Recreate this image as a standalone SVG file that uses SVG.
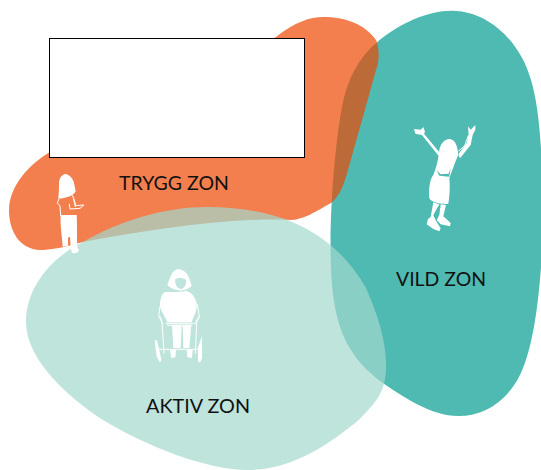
<svg xmlns="http://www.w3.org/2000/svg" width="541" height="470" viewBox="0 0 541 470">
<style>
.lbl{font-family:"Lato","Liberation Sans",sans-serif;font-size:20px;fill:#111}
.w{fill:#fff}
.l{fill:none;stroke:#fff;stroke-linecap:round;stroke-linejoin:round}
</style>
<rect width="541" height="470" fill="#fff"/>
<g id="vild-zon">
<path fill="#4fbab2" d="M377.600 41.700C400 23 427.600 10.700 451.700 10.700C489.700 10.700 520.700 43 531 80C540 110 543 157 543 233C540 300 533 350 519 377C505 403 482.800 416 458.600 416C431 416 403.400 397 382.800 383C351.700 360 332.800 333 331 267C329 217 334.500 150 341.400 110C346.500 80 358.600 57 377.600 41.700Z"/>
<text class="lbl" x="396" y="286" textLength="90" lengthAdjust="spacingAndGlyphs">VILD ZON</text>
<g transform="translate(400 115) scale(.3333)">
<path class="w" d="M150 72C130 72 121 90 118 105C115 130 112 150 100 180C88 195 86 225 88 250C92 262 130 270 145 266C150 240 150 210 148 190C155 170 170 130 175 120C172 95 168 75 150 72Z"/>
<path fill="#4fbab2" d="M110 166L118 182L148 185L152 158L146 176L122 178Z"/>
<path class="w" d="M42 42L62 44L70 36L75 50L72 56L118 112L118 125L66 60L46 56Z"/>
<path class="w" d="M204 34L212 44L226 30L226 44L218 60L212 90L180 130L175 118L200 85L206 60Z"/>
<path class="l" stroke-width="3" d="M205 62L194 92L176 108"/>
<path class="w" d="M100 262L118 268L100 300L108 318L122 340L118 349L100 342L80 328L84 312L92 306Z"/>
<path class="w" d="M122 268L138 270L130 304L152 324L150 334L122 328L110 316L118 300Z"/>
<path fill="#4fbab2" d="M114 276L122 276L106 308L102 304Z"/>
</g>
</g>
<g id="trygg-zon">
<path fill="#ed4600" fill-opacity=".69" d="M276 37C295 22 310 17 323 17C345 17 365 24 376 40C380 50 379 62 376 70L346 177C342 190 338 197 331 203C315 212 303 220 290 220C255 218 190 222 83 242C62 248 50 250 40 250C20 249 9 232 9 210C9 187 28 165 50 152Z"/>
<text class="lbl" x="119" y="190" textLength="110" lengthAdjust="spacingAndGlyphs">TRYGG ZON</text>
</g>
<g id="aktiv-zon">
<path fill="#a2d8cd" fill-opacity=".7" d="M83 242C121 220 165.500 207 207 207C241 207 269 213 290 221C324 235 348 257 365.500 287C379 317 387 345 386 370C385 392 376 403 358.600 420C331 443 293 470 248 470C207 470 148 447 103 420C69 398 26 360 26 322C26 287 52 257 83 242Z"/>
<text class="lbl" x="146" y="413" textLength="104" lengthAdjust="spacingAndGlyphs">AKTIV ZON</text>
<g transform="translate(140 260) scale(.3333)">
<path class="w" d="M115 27C97 29 92 48 82 75C90 85 108 90 120 92C135 90 150 85 155 78C148 50 140 30 115 27Z"/>
<path fill="#bee4dd" d="M106 58C115 52 132 52 138 60C140 72 134 86 122 87C112 86 104 74 106 58Z"/>
<path class="w" d="M75 96C63 102 60 122 60 140C64 156 78 172 82 187L155 187C160 170 172 155 170 130C165 110 155 96 136 92C120 98 92 95 75 96Z"/>
<path class="w" d="M96 194L125 194L122 264L100 264Z"/>
<path class="w" d="M128 194L154 194L148 264L130 264Z"/>
<path class="l" stroke-width="3" d="M60 170L66 185L72 280M178 170L170 188L166 280M78 190L160 190M82 196L155 196M50 268L184 268M60 140L56 168L68 192M172 134L178 168L164 192"/>
<path class="w" d="M44 242L50 240L54 252L64 300L60 308L50 290ZM186 228L186 295L180 308L174 304L174 262Z"/>
<path class="w" d="M90 270L108 270L106 292L94 294ZM140 270L158 270L156 294L142 292Z"/>
</g>
</g>
<g id="girl" transform="translate(40 165) scale(.3333)">
<path class="w" d="M78 27C62 28 56 45 57 60C57 78 56 88 55 98C62 103 72 100 78 97C90 95 104 88 107 78C103 60 103 35 78 27Z"/>
<path class="l" stroke-width="3" d="M58 98L52 115L60 122L62 152M98 92L108 122L132 120L120 130L90 132L88 118M100 98L106 125"/>
<path class="w" d="M62 150L110 150C112 180 110 210 112 245L117 256C115 263 105 266 97 264C92 258 92 245 90 215L84 218L84 243L68 245C66 210 60 180 62 150Z"/>
</g>
<g id="caption-box">
<rect x="49.500" y="38.500" width="255" height="119" fill="#fff" stroke="#000"/>
</g>
</svg>
